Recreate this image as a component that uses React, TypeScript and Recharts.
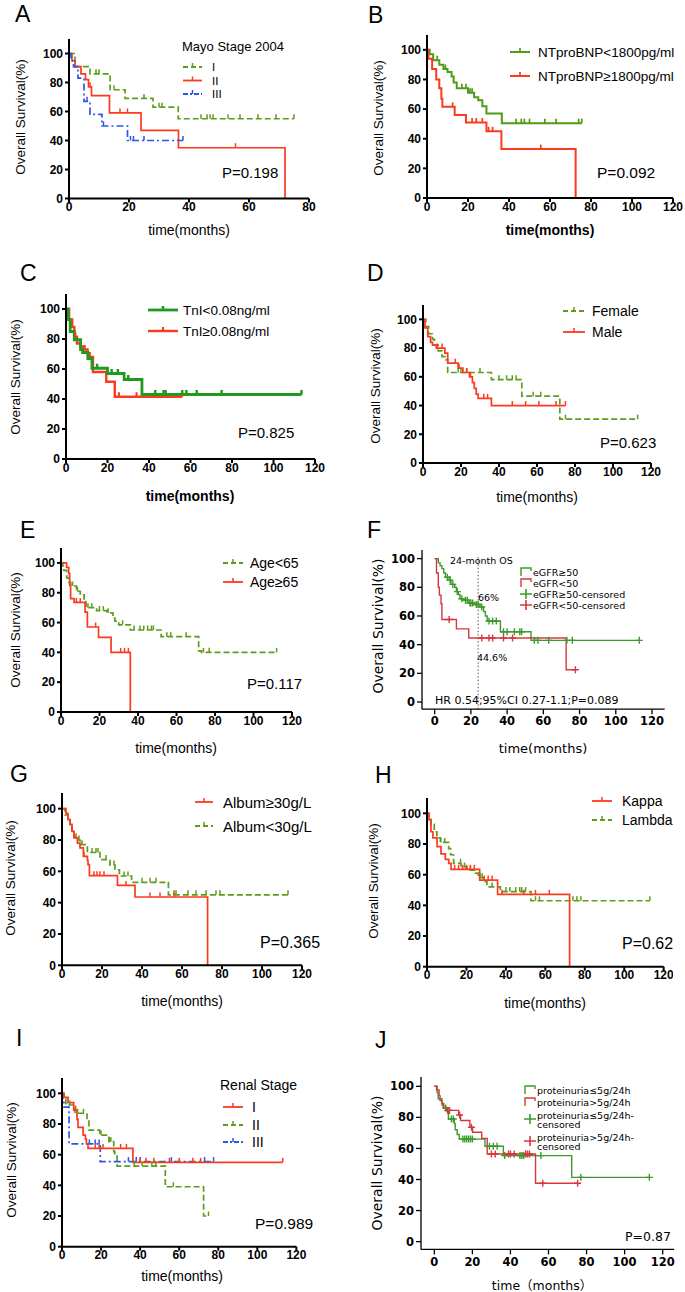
import React from 'react';
import { ComposedChart, Line, XAxis, YAxis, ReferenceLine } from 'recharts';

// ---- survival steps: [time, survival%] ; censored times ----
// A: Mayo stage 2004
const aStageI = [[0, 100], [2, 91], [7, 86], [13.7, 75], [18.7, 69], [28, 63], [36.4, 55]];
const aStageIc = [9, 10, 15, 25, 30, 31, 44, 46, 47, 48, 53, 57, 63, 69, 75];
const aStageII = [[0, 100], [1, 95], [2, 91], [4, 86], [5.5, 82], [6.5, 77], [7.5, 71], [13.5, 59], [24, 47], [36.5, 35], [72, 0]];
const aStageIIc = [7, 17, 19.5, 55.5];
const aStageIII = [[0, 100], [0.7, 95], [1.5, 91], [3, 83], [5, 67], [7, 58], [11, 50], [19.5, 40]];
const aStageIIIc = [6, 11.5, 20.5, 21.5, 25, 38];

// B: NTproBNP
const bLow = [[0, 100], [1.3, 97], [3, 93], [6, 90], [8, 87], [10, 85], [12, 82], [13, 78], [14.5, 74], [20, 71], [23, 68], [25, 66], [27, 62], [29, 57], [36.5, 50.5]];
const bLowC = [5, 9, 17, 19, 21, 22, 43.5, 46, 47.5, 50, 57.5, 63, 74, 75.5];
const bHigh = [[0, 100], [0.7, 94], [2.5, 87], [4.5, 80], [6, 74], [7, 67], [7.5, 61.5], [13.5, 56], [19, 51], [29, 45], [36.3, 33], [72.5, 0]];
const bHighC = [12.5, 22, 24, 27, 30, 32, 55.5];

// C: TnI
const cLow = [[0, 100], [1, 93], [2, 85], [4, 79.5], [7, 73], [8, 71], [10.5, 67], [12.5, 60.5], [20, 57], [28, 53], [36.6, 43]];
const cLowC = [15, 22, 25, 30, 43, 47, 48, 56, 58, 63, 75, 113.5];
const cHigh = [[0, 100], [1.5, 93], [3, 88], [4, 81.5], [5.3, 77], [7, 75], [8.5, 73], [10.4, 70.5], [11.4, 68], [13, 58], [19.4, 51.5], [23.5, 41.5]];
const cHighC = [4.5, 9, 25.5, 34, 56];

// D: sex
const dFemale = [[0, 100], [1.5, 95], [3, 90], [5, 86], [6, 82], [8, 78], [10, 74], [12, 72], [13, 63], [36, 58], [52, 46.5], [72, 30.5]];
const dFemaleC = [18.5, 20, 23, 30, 40, 44, 47, 49, 58, 62, 75, 113];
const dMale = [[0, 100], [1, 94], [2.5, 88], [4, 84], [5, 82], [7, 80], [11.5, 76.5], [13, 69.5], [18.5, 66], [21, 63], [24.5, 60], [26, 56], [27, 52], [28, 48], [29, 45], [36, 40]];
const dMaleC = [7.5, 10, 17, 19, 23, 25, 32, 34, 47, 54, 61, 70, 75];

// E: age
const eYoung = [[0, 100], [1, 97], [1.5, 95], [3, 90], [4, 87], [5, 84.5], [8, 81], [10, 78.5], [12, 74], [13, 70], [18.5, 68], [24, 66.5], [27, 63], [28, 61], [30, 58.5], [36, 55], [52, 50.5], [71.5, 41], [73, 40]];
const eYoungC = [6, 8.5, 14, 16, 20, 22, 24.5, 32, 38, 41, 43, 45, 47, 48, 55, 57, 65, 74, 77, 112];
const eOld = [[0, 100], [2.9, 97], [4, 93], [4.5, 85], [5, 76], [6.8, 73.5], [12.5, 67], [13.7, 57], [19.5, 50], [26, 40], [36, 0]];
const eOldC = [8, 10, 18, 31, 33, 35];

// F: eGFR
const fHigh = [[0, 100], [2, 97], [3, 95], [4, 93], [5, 90], [6, 87], [8, 85], [9, 82], [11, 80], [12, 77], [13, 75], [14, 72], [16, 71], [19, 69], [22, 68], [25, 66.3], [27, 63], [28, 60], [29, 56.5], [36.3, 49], [53.2, 43]];
const fHighC = [7, 8.5, 10, 12.5, 15, 17, 18, 19.5, 20, 21, 23, 24, 26, 30, 32, 34, 38, 40, 44, 47, 48, 55, 57, 63, 73, 76, 113];
const fLow = [[0, 100], [1, 90], [2, 80], [2.6, 74.5], [3.5, 68.5], [4, 57.5], [12, 51], [18.8, 44.6], [72.6, 22.5]];
const fLowC = [8, 26, 30, 32, 38, 43, 77.7];

// G: albumin
const gHigh = [[0, 100], [2, 97], [3, 93], [4, 90], [5, 85.5], [6, 81.3], [7.7, 78], [9, 75], [10.7, 69.6], [12.7, 67], [13, 64.3], [13.7, 57.2], [27.7, 51], [36.5, 43.6], [72.8, 0]];
const gHighC = [7, 11, 16, 17.5, 19, 21, 32, 44, 49, 56];
const gLow = [[0, 100], [1.5, 96], [3, 93], [4, 90], [5, 86], [6, 82], [8, 80], [9, 77], [12.7, 72], [19, 67.5], [24, 64], [26.5, 61], [28.7, 57], [34.8, 53], [53.2, 45]];
const gLowC = [8.5, 10, 15, 17, 18, 22, 26, 31, 33, 40, 44, 47, 56, 57, 63, 67, 72, 77, 79, 113];

// H: light chain
const hKappa = [[0, 100], [1, 95.7], [2, 88], [3, 84], [5.1, 78.3], [7.1, 73.5], [9.3, 70], [11, 67.4], [12.2, 63.5], [26.7, 56.5], [35.8, 47.2], [72.3, 0]];
const hKappaC = [14, 16, 18, 20, 22, 24, 29, 31, 33, 38, 49, 55, 62];
const hLambda = [[0, 100], [1, 97], [2, 93], [3.7, 88], [5, 84], [6.8, 81], [11, 77], [12, 73], [13.5, 67.4], [17.2, 65], [20.3, 63], [24.5, 61], [26, 58], [28.7, 55.4], [30.4, 52], [37.2, 49], [52.7, 43]];
const hLambdaC = [7, 9, 17, 19, 22, 27, 28, 33, 40, 42, 45, 47, 48, 50, 55, 57, 74, 76, 78, 113];

// I: renal stage
const iStageI = [[0, 100], [1, 97.4], [3.1, 93.9], [6, 89], [7.7, 83], [8.2, 77.8], [10.8, 72.8], [12, 70], [12.5, 67], [13.3, 64.1], [36.3, 55]];
const iStageIc = [7, 17, 19, 21, 30, 33, 40, 43, 47, 55, 60, 67, 71, 113];
const iStageII = [[0, 100], [1, 97], [2, 92.4], [6.7, 87], [12.8, 82], [13.8, 76], [19.3, 72.8], [24, 68.5], [26.5, 62], [27, 60], [28.2, 52.6], [52.9, 39.1], [72.5, 20]];
const iStageIIc = [4, 8, 11, 20, 24.5, 25, 37, 41, 46, 48, 57, 75];
const iStageIII = [[0, 100], [0.5, 95], [1, 91], [3.6, 67], [19.6, 55.5]];
const iStageIIIc = [14, 17, 19, 34, 38, 40, 56, 73, 77.6];

// J: proteinuria
const jLow = [[0, 100], [1.5, 96], [2, 92], [4, 89], [5, 86], [6.5, 84], [7.4, 79], [10.5, 76], [11, 72], [12, 69], [13.1, 66], [26.6, 61.4], [36.3, 55.4], [72.2, 41.4]];
const jLowC = [6, 9, 10, 15, 16, 17, 18, 19, 20, 29, 31, 33, 37, 45, 46, 47, 56, 77, 113];
const jHigh = [[0, 100], [1.2, 97.6], [2.5, 94], [3, 90.8], [4, 88], [4.7, 86.5], [6.1, 84.5], [12.8, 81.5], [13.8, 78], [18.7, 73.6], [20.1, 70.4], [24.9, 66.5], [27.8, 56.4], [53.2, 37.6]];
const jHighC = [7, 8, 13.3, 19.5, 30, 32, 39, 40, 42, 48, 49, 50, 57, 75.3];

const yTicks = [0, 20, 40, 60, 80, 100];
const ticks80 = [0, 20, 40, 60, 80];
const ticks120 = [0, 20, 40, 60, 80, 100, 120];

const PRISM = "'Liberation Sans', Arial, sans-serif";
const SPSS = "'DejaVu Sans', sans-serif";

const GREEN = '#5c9d1e';
const RED = '#fb3a1f';
const BLUE = '#2a55ef';
const SGREEN = '#3f9a2e';
const SRED = '#d6383c';

type Pt = { t: number; s: number; c: boolean };

function km(steps: number[][], cens: number[]): Pt[] {
  const pts: Pt[] = steps.map(([t, s]) => ({ t, s, c: false }));
  cens.forEach((ct) => {
    let s = steps[0][1];
    steps.forEach(([t, v]) => {
      if (t <= ct) s = v;
    });
    pts.push({ t: ct, s, c: true });
  });
  return pts.sort((a, b) => a.t - b.t);
}

interface Series {
  pts: Pt[];
  color: string;
  width: number;
  dash?: string;
  mark: 'tick' | 'plus';
}

const markRenderer = (color: string, mark: string, mw: number) => (p: any) => {
  const { cx, cy, payload, index } = p;
  if (!payload || !payload.c || cx == null || cy == null) return <g key={`m${index}`} />;
  const d = mark === 'plus' ? `M${cx - 3.5},${cy}h7M${cx},${cy - 3.5}v7` : `M${cx},${cy}v-4.5`;
  return <path key={`m${index}`} d={d} stroke={color} strokeWidth={mw} fill="none" />;
};

interface PanelProps {
  x0: number;
  top: number;
  w: number;
  h: number;
  xDomain: [number, number];
  yDomain: [number, number];
  xTicks: number[];
  series: Series[];
  spss?: boolean;
  refX?: number;
}

function KMPanel({ x0, top, w, h, xDomain, yDomain, xTicks, series, spss, refX }: PanelProps) {
  const YW = 44;
  const XH = 26;
  const MT = 6;
  const MR = 10;
  const aw = spss ? 1.3 : 2;
  const tickFont = spss
    ? { fill: '#000', fontSize: 11.5, fontWeight: 700, fontFamily: SPSS }
    : { fill: '#000', fontSize: 12, fontWeight: 700, fontFamily: PRISM };
  return (
    <div style={{ position: 'absolute', left: x0 - YW, top: top - MT }}>
      <ComposedChart width={YW + w + MR} height={MT + h + XH} margin={{ top: MT, right: MR, bottom: 0, left: 0 }}>
        <XAxis
          type="number"
          dataKey="t"
          domain={xDomain}
          ticks={xTicks}
          interval={0}
          height={XH}
          axisLine={{ stroke: '#000', strokeWidth: aw }}
          tickLine={{ stroke: '#000', strokeWidth: aw }}
          tickSize={spss ? 5 : 4}
          tickMargin={spss ? 3 : 0}
          tick={tickFont}
        />
        <YAxis
          type="number"
          domain={yDomain}
          ticks={yTicks}
          interval={0}
          width={YW}
          axisLine={{ stroke: '#000', strokeWidth: aw }}
          tickLine={{ stroke: '#000', strokeWidth: aw }}
          tickSize={spss ? 5 : 4}
          tickMargin={2}
          tick={tickFont}
        />
        {refX !== undefined && (
          <ReferenceLine
            segment={[{ x: refX, y: yDomain[0] }, { x: refX, y: 102 }]}
            stroke="#555"
            strokeWidth={1}
            strokeDasharray="1.5 2"
          />
        )}
        {series.map((s, i) => (
          <Line
            key={i}
            data={s.pts}
            dataKey="s"
            type="stepAfter"
            stroke={s.color}
            strokeWidth={s.width}
            strokeDasharray={s.dash}
            dot={markRenderer(s.color, s.mark, s.mark === 'plus' ? 1.4 : Math.max(1.5, s.width - 0.3))}
            activeDot={false}
            isAnimationActive={false}
          />
        ))}
      </ComposedChart>
    </div>
  );
}

// overlay text helpers
function T({ x, y, s, f = PRISM, w = 400, a = 'start', r, children }: any) {
  return (
    <text
      x={x}
      y={y}
      fontSize={s}
      fontFamily={f}
      fontWeight={w}
      textAnchor={a}
      dominantBaseline="central"
      fill="#000"
      transform={r ? `rotate(-90 ${x} ${y})` : undefined}
    >
      {children}
    </text>
  );
}

function Key({ x1, x2, tx, y, color, dash, width = 1.8, label, size }: any) {
  const mid = (x1 + x2) / 2;
  return (
    <g>
      <line x1={x1} x2={x2} y1={y} y2={y} stroke={color} strokeWidth={width} strokeDasharray={dash} />
      <line x1={mid} x2={mid} y1={y} y2={y - 4} stroke={color} strokeWidth={Math.max(1.5, width - 0.3)} />
      <T x={tx} y={y} s={size}>{label}</T>
    </g>
  );
}

function SKey({ x, y, color, plus, lines, size = 9.5 }: any) {
  return (
    <g>
      {plus ? (
        <path d={`M${x},${y}h12M${x + 6},${y - 5}v10`} stroke={color} strokeWidth={1.6} fill="none" />
      ) : (
        <path d={`M${x + 1},${y + 4}V${y - 4}H${x + 11}V${y - 1}`} stroke={color} strokeWidth={1.4} fill="none" />
      )}
      {lines.map((l: string, i: number) => (
        <T key={i} x={x + 13} y={y + (i === 0 ? (lines.length > 1 ? -4 : 0) : 5)} s={size} f={SPSS}>
          {l}
        </T>
      ))}
    </g>
  );
}

export default function App() {
  const dashG = '6 3';
  const dashB = '7 3 2 3';
  return (
    <div style={{ position: 'absolute', left: 0, top: 0, width: 685, height: 1292, background: '#fff', overflow: 'hidden' }}>
      {/* A */}
      <KMPanel x0={69} top={38.5} w={240} h={159.5} xDomain={[0, 80]} yDomain={[0, 110]} xTicks={ticks80}
        series={[
          { pts: km(aStageI, aStageIc), color: GREEN, width: 1.7, dash: dashG, mark: 'tick' },
          { pts: km(aStageII, aStageIIc), color: RED, width: 1.7, mark: 'tick' },
          { pts: km(aStageIII, aStageIIIc), color: BLUE, width: 1.7, dash: dashB, mark: 'tick' },
        ]} />
      {/* B */}
      <KMPanel x0={427} top={35} w={246} h={163} xDomain={[0, 120]} yDomain={[0, 110]} xTicks={ticks120}
        series={[
          { pts: km(bLow, bLowC), color: '#4f9a16', width: 2, mark: 'tick' },
          { pts: km(bHigh, bHighC), color: RED, width: 2, mark: 'tick' },
        ]} />
      {/* C */}
      <KMPanel x0={66} top={294} w={249} h={165} xDomain={[0, 120]} yDomain={[0, 110]} xTicks={ticks120}
        series={[
          { pts: km(cHigh, cHighC), color: RED, width: 2.4, mark: 'tick' },
          { pts: km(cLow, cLowC), color: '#1f9a1f', width: 2.8, mark: 'tick' },
        ]} />
      {/* D */}
      <KMPanel x0={423} top={305} w={228} h={158} xDomain={[0, 120]} yDomain={[0, 110]} xTicks={ticks120}
        series={[
          { pts: km(dFemale, dFemaleC), color: GREEN, width: 1.7, dash: dashG, mark: 'tick' },
          { pts: km(dMale, dMaleC), color: RED, width: 1.7, mark: 'tick' },
        ]} />
      {/* E */}
      <KMPanel x0={61} top={548} w={231} h={164} xDomain={[0, 120]} yDomain={[0, 110]} xTicks={ticks120}
        series={[
          { pts: km(eYoung, eYoungC), color: GREEN, width: 1.7, dash: dashG, mark: 'tick' },
          { pts: km(eOld, eOldC), color: RED, width: 1.7, mark: 'tick' },
        ]} />
      {/* F */}
      <KMPanel x0={421.7} top={549.7} w={242.7} h={159.2} xDomain={[-7, 127]} yDomain={[-5, 106]} xTicks={ticks120} spss refX={24}
        series={[
          { pts: km(fHigh, fHighC), color: SGREEN, width: 1.4, mark: 'plus' },
          { pts: km(fLow, fLowC), color: SRED, width: 1.4, mark: 'plus' },
        ]} />
      {/* G */}
      <KMPanel x0={62} top={793.4} w={240} h={172.3} xDomain={[0, 120]} yDomain={[0, 110]} xTicks={ticks120}
        series={[
          { pts: km(gLow, gLowC), color: GREEN, width: 1.7, dash: dashG, mark: 'tick' },
          { pts: km(gHigh, gHighC), color: RED, width: 1.7, mark: 'tick' },
        ]} />
      {/* H */}
      <KMPanel x0={426.7} top={798} w={236.7} h={168.7} xDomain={[0, 120]} yDomain={[0, 110]} xTicks={ticks120}
        series={[
          { pts: km(hLambda, hLambdaC), color: GREEN, width: 1.7, dash: dashG, mark: 'tick' },
          { pts: km(hKappa, hKappaC), color: RED, width: 1.7, mark: 'tick' },
        ]} />
      {/* I */}
      <KMPanel x0={62.3} top={1078} w={234.4} h={168.7} xDomain={[0, 120]} yDomain={[0, 110]} xTicks={ticks120}
        series={[
          { pts: km(iStageII, iStageIIc), color: GREEN, width: 1.7, dash: dashG, mark: 'tick' },
          { pts: km(iStageIII, iStageIIIc), color: BLUE, width: 1.7, dash: dashB, mark: 'tick' },
          { pts: km(iStageI, iStageIc), color: RED, width: 1.7, mark: 'tick' },
        ]} />
      {/* J */}
      <KMPanel x0={421} top={1077} w={253.1} h={172.4} xDomain={[-7, 126]} yDomain={[-5, 106]} xTicks={ticks120} spss
        series={[
          { pts: km(jLow, jLowC), color: SGREEN, width: 1.4, mark: 'plus' },
          { pts: km(jHigh, jHighC), color: SRED, width: 1.4, mark: 'plus' },
        ]} />

      <svg width={685} height={1292} style={{ position: 'absolute', left: 0, top: 0, pointerEvents: 'none' }}>
        {/* panel letters */}
        <T x={15} y={13.5} s={23}>A</T>
        <T x={368} y={14.5} s={23}>B</T>
        <T x={20} y={272.5} s={23}>C</T>
        <T x={367} y={272.5} s={23}>D</T>
        <T x={20} y={530} s={23}>E</T>
        <T x={367} y={529.5} s={23}>F</T>
        <T x={10} y={774} s={23}>G</T>
        <T x={375} y={775} s={23}>H</T>
        <T x={16} y={1038} s={23}>I</T>
        <T x={375} y={1040} s={23}>J</T>

        {/* y titles */}
        <T x={20} y={117} s={13.5} a="middle" r>Overall Survival(%)</T>
        <T x={378} y={118} s={13.5} a="middle" r>Overall Survival(%)</T>
        <T x={15} y={377} s={13.5} a="middle" r>Overall Survival(%)</T>
        <T x={375} y={386} s={13.5} a="middle" r>Overall Survival(%)</T>
        <T x={15} y={630} s={13.5} a="middle" r>Overall Survival(%)</T>
        <T x={378} y={626} s={14} f={SPSS} a="middle" r>Overall Survival(%)</T>
        <T x={10} y={878} s={13.5} a="middle" r>Overall Survival(%)</T>
        <T x={373} y={881} s={13.5} a="middle" r>Overall Survival(%)</T>
        <T x={11} y={1160} s={13.5} a="middle" r>Overall Survival(%)</T>
        <T x={377} y={1163} s={14} f={SPSS} a="middle" r>Overall Survival(%)</T>

        {/* x titles */}
        <T x={189} y={230} s={14} a="middle">time(months)</T>
        <T x={550} y={230} s={14} w={700} a="middle">time(months)</T>
        <T x={190} y={496} s={14} w={700} a="middle">time(months)</T>
        <T x={537} y={497} s={14} a="middle">time(months)</T>
        <T x={176} y={748} s={14} a="middle">time(months)</T>
        <T x={543} y={748} s={13} f={SPSS} a="middle">time(months)</T>
        <T x={182} y={1001} s={14} a="middle">time(months)</T>
        <T x={545} y={1003} s={14} a="middle">time(months)</T>
        <T x={182} y={1276} s={14} a="middle">time(months)</T>
        <T x={542} y={1285} s={12.5} f={"'DejaVu Sans', 'Noto Sans CJK SC', sans-serif"} a="middle">time（months）</T>

        {/* P values */}
        <T x={222} y={172} s={15}>P=0.198</T>
        <T x={597} y={172} s={15.5}>P=0.092</T>
        <T x={238} y={432} s={15}>P=0.825</T>
        <T x={600} y={442} s={15}>P=0.623</T>
        <T x={247} y={683} s={15}>P=0.117</T>
        <T x={260} y={942} s={16}>P=0.365</T>
        <T x={622} y={943} s={16}>P=0.62</T>
        <T x={255} y={1223} s={15.5}>P=0.989</T>
        <T x={625} y={1236} s={12.5} f={SPSS}>P=0.87</T>

        {/* F annotations */}
        <T x={450} y={560} s={9.5} f={SPSS}>24-month OS</T>
        <T x={478} y={597} s={9.5} f={SPSS}>66%</T>
        <T x={477} y={657} s={9.5} f={SPSS}>44.6%</T>
        <T x={435} y={700} s={11} f={SPSS}>HR 0.54;95%CI 0.27-1.1;P=0.089</T>

        {/* legends */}
        <T x={182} y={46} s={13}>Mayo Stage 2004</T>
        <Key x1={183} x2={202} tx={212} y={67} color={GREEN} dash="5 3" label="I" size={11.5} />
        <Key x1={183} x2={202} tx={212} y={80.5} color={RED} label="II" size={11.5} />
        <Key x1={183} x2={202} tx={212} y={94} color={BLUE} dash="5 2 2 2" label="III" size={11.5} />

        <Key x1={510} x2={530} tx={538} y={52} color="#4f9a16" width={2} label="NTproBNP<1800pg/ml" size={13.5} />
        <Key x1={510} x2={530} tx={538} y={76} color={RED} width={2} label="NTproBNP≥1800pg/ml" size={13.5} />

        <Key x1={148} x2={178} tx={183} y={310} color="#1f9a1f" width={2.8} label="TnI<0.08ng/ml" size={13.5} />
        <Key x1={148} x2={178} tx={183} y={331} color={RED} width={2.4} label="TnI≥0.08ng/ml" size={13.5} />

        <Key x1={563} x2={585} tx={592} y={311} color={GREEN} dash="5 3" label="Female" size={14} />
        <Key x1={563} x2={585} tx={592} y={332} color={RED} label="Male" size={14} />

        <Key x1={223} x2={243} tx={250} y={563} color={GREEN} dash="5 3" label="Age<65" size={14} />
        <Key x1={223} x2={243} tx={250} y={582} color={RED} label="Age≥65" size={14} />

        <SKey x={520} y={572} color={SGREEN} lines={['eGFR≥50']} />
        <SKey x={520} y={583} color={SRED} lines={['eGFR<50']} />
        <SKey x={520} y={594} color={SGREEN} plus lines={['eGFR≥50-censored']} />
        <SKey x={520} y={605} color={SRED} plus lines={['eGFR<50-censored']} />

        <Key x1={195} x2={213} tx={223} y={802} color={RED} label="Album≥30g/L" size={15} />
        <Key x1={195} x2={213} tx={223} y={826} color={GREEN} dash="5 3" label="Album<30g/L" size={15} />

        <Key x1={592} x2={612} tx={622} y={801} color={RED} label="Kappa" size={14} />
        <Key x1={592} x2={612} tx={622} y={820} color={GREEN} dash="5 3" label="Lambda" size={14} />

        <T x={220} y={1085} s={14}>Renal Stage</T>
        <Key x1={223} x2={243} tx={252} y={1107} color={RED} label="I" size={14} />
        <Key x1={223} x2={243} tx={252} y={1125} color={GREEN} dash="5 3" label="II" size={14} />
        <Key x1={223} x2={243} tx={252} y={1142} color={BLUE} dash="5 2 2 2" label="III" size={14} />

        <SKey x={524} y={1090} color={SGREEN} lines={['proteinuria≤5g/24h']} />
        <SKey x={524} y={1102} color={SRED} lines={['proteinuria>5g/24h']} />
        <SKey x={524} y={1119} color={SGREEN} plus lines={['proteinuria≤5g/24h-', 'censored']} />
        <SKey x={524} y={1141} color={SRED} plus lines={['proteinuria>5g/24h-', 'censored']} />
      </svg>
    </div>
  );
}
